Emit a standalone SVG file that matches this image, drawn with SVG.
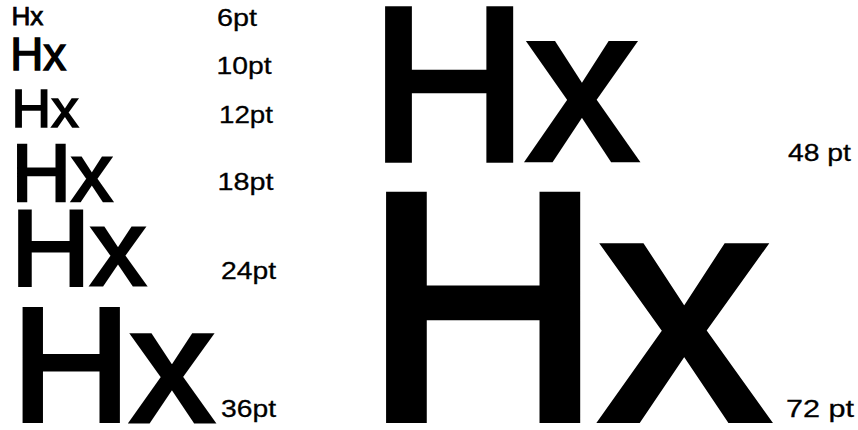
<svg xmlns="http://www.w3.org/2000/svg" width="858" height="430" viewBox="0 0 858 430">
<style>
text{font-family:"Liberation Sans",Arial,Helvetica,sans-serif;fill:#000;stroke:#000;stroke-linejoin:miter}
.lbl{font-size:24px;stroke-width:0.3px}
</style>
<rect width="858" height="430" fill="#fff"/>
<g id="samples">
<text x="11.4" y="24.6" font-size="25" stroke-width="0.75" textLength="32" lengthAdjust="spacingAndGlyphs">Hx</text>
<text x="10.2" y="70.3" font-size="46" stroke-width="1.4" textLength="56" lengthAdjust="spacingAndGlyphs">Hx</text>
<text x="11.6" y="127.2" font-size="53" stroke-width="1.6" textLength="67" lengthAdjust="spacingAndGlyphs">Hx</text>
<text x="11.5" y="200.8" font-size="82" stroke-width="2.5" textLength="101" lengthAdjust="spacingAndGlyphs">Hx</text>
<text x="10.8" y="285.4" font-size="107" stroke-width="3.2" textLength="135" lengthAdjust="spacingAndGlyphs">Hx</text>
<text x="11.5" y="420.6" font-size="162" stroke-width="4.9" textLength="202" lengthAdjust="spacingAndGlyphs">Hx</text>
<text x="370.5" y="158.8" font-size="217" stroke-width="6.5" textLength="266" lengthAdjust="spacingAndGlyphs">Hx</text>
<text x="364" y="418.2" font-size="322" stroke-width="9.7" textLength="403" lengthAdjust="spacingAndGlyphs">Hx</text>
</g>
<g id="labels">
<text class="lbl" x="217" y="26" textLength="40" lengthAdjust="spacingAndGlyphs">6pt</text>
<text class="lbl" x="216.5" y="74" textLength="55" lengthAdjust="spacingAndGlyphs">10pt</text>
<text class="lbl" x="219" y="122.7" textLength="54" lengthAdjust="spacingAndGlyphs">12pt</text>
<text class="lbl" x="217.5" y="190" textLength="56" lengthAdjust="spacingAndGlyphs">18pt</text>
<text class="lbl" x="221" y="279.3" textLength="55" lengthAdjust="spacingAndGlyphs">24pt</text>
<text class="lbl" x="221" y="416.7" textLength="55" lengthAdjust="spacingAndGlyphs">36pt</text>
<text class="lbl" x="788" y="160.7" textLength="63" lengthAdjust="spacingAndGlyphs">48 pt</text>
<text class="lbl" x="786" y="417.3" textLength="68" lengthAdjust="spacingAndGlyphs">72 pt</text>
</g>
</svg>
